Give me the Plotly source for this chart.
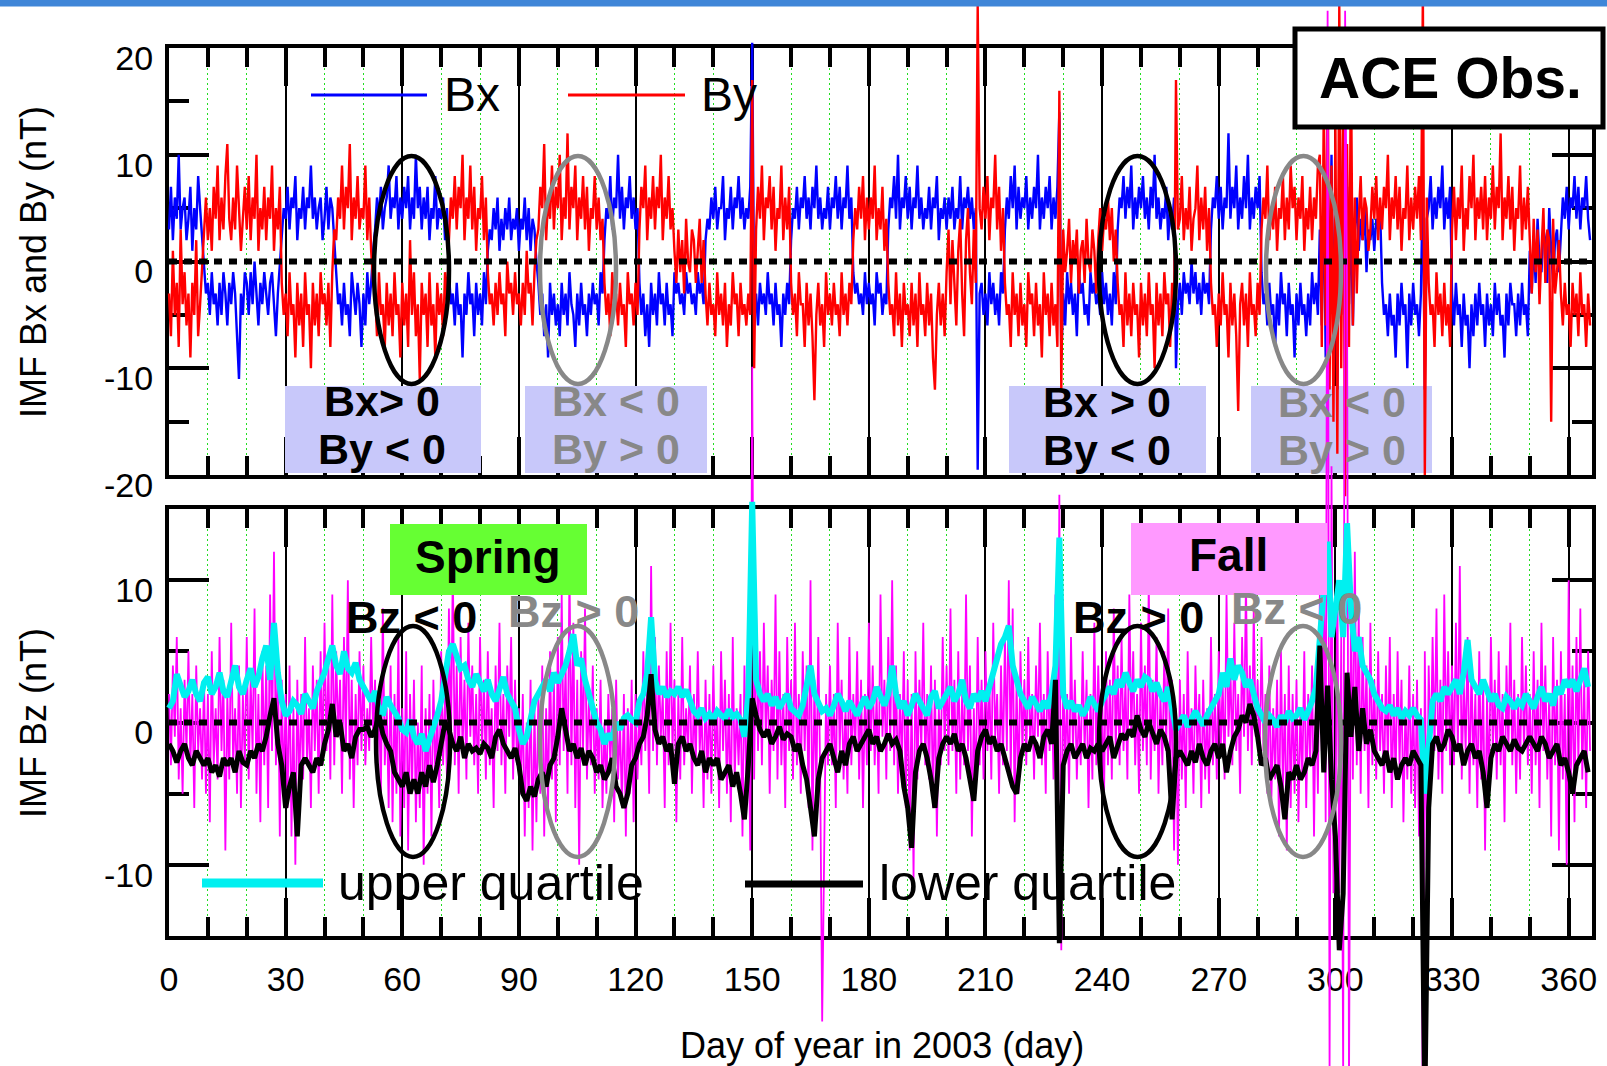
import numpy as np
import plotly.graph_objects as go

# ---------------------------------------------------------------- data
# ACE IMF 2003, sampled twice per day (day 0.0, 0.5, ... 365.5), in nT
BX = [
    3, 7, 2, 6, 4, 10, 3, 5, 6, 2, 4, 7, 1, 5, 3, 8, 5, 2, -1, -3,
    -2, -5, -1, -4, -3, -6, -2, -5, -1, -3, -6, -2, -4, -1, -3, -7, -11, -3, -5, -1,
    -2, -5, -1, -4, 0, -3, -6, -2, -4, -1, -3, -5, -2, -1, -4, -7, -3, 0, 2, 5,
    4, 7, 3, 6, 5, 8, 2, 5, 4, 7, 3, 6, 5, 9, 4, 6, 3, 5, 6, 2,
    4, 7, 3, 6, 5, 2, -1, -4, -3, -6, -2, -5, -4, -7, -1, -3, -5, -2, -4, -8,
    -3, -6, -1, -4, -2, 1, 3, 6, 4, 7, 3, 5, 6, 9, 4, 6, 5, 8, 3, 6,
    4, 7, 5, 8, 3, 6, 4, 10, 5, 7, 3, 6, 4, 7, 2, 5, 4, 8, 3, 5,
    4, 6, 2, 5, -1, -4, -3, -6, -2, -5, -4, -9, -3, -5, -1, -4, -3, -7, -2, -5,
    -3, -6, -1, -4, 1, 3, 2, 5, 3, 6, 1, 4, 2, 5, 3, 6, 2, 4, 3, 5,
    1, 4, 3, 6, 2, 5, 1, 4, 3, 0, -2, -5, -3, -7, -4, -9, -2, -5, -3, -6,
    -4, -7, -2, -5, -3, -6, -1, -4, -5, -8, -3, -6, -2, -5, -4, -7, -3, -5, -2, -4,
    -3, -6, -1, -3, 2, 5, 4, 8, 3, 6, 5, 10, 4, 7, 3, 6, 5, 8, 4, 6,
    3, 5, -2, -5, -3, -7, -4, -8, -2, -5, -3, -6, -1, -4, -3, -6, -2, -5, -4, -7,
    -1, -3, -2, -4, -3, -5, -1, -3, -2, -4, -3, -5, -1, -3, -2, -4, 2, 4, 3, 6,
    4, 7, 3, 5, 5, 8, 2, 5, 4, 7, 3, 6, 5, 8, 4, 6, 3, 5, 4, 7,
    20.5, -4, -3, -6, -2, -4, -3, -5, -1, -4, -3, -6, -2, -5, -4, -8, -3, -5, -2, -4,
    2, 5, 4, 7, 3, 6, 5, 8, 4, 6, 3, 7, 5, 9, 4, 6, 3, 5, 4, 7,
    3, 6, 5, 8, 4, 7, 3, 6, 5, 9, 4, 6, -1, -3, -2, -4, -3, -5, -1, -4,
    -2, -4, -3, -6, -1, -3, -2, -5, -3, -4, 3, 6, 5, 8, 4, 10, 3, 6, 5, 8,
    4, 7, 3, 6, 5, 9, 4, 6, 3, 5, 4, 7, 3, 6, 5, 8, 2, 5, 4, 6,
    3, 6, 4, 7, 3, 5, 4, 8, 3, 6, 5, 7, 4, 6, 3, 5, -19.5, -3, -2, -5,
    -3, -6, -1, -4, -2, -5, -3, -6, -1, -3, 3, 6, 4, 8, 5, 9, 3, 7, 4, 6,
    5, 8, 3, 6, 4, 7, 5, 10, 3, 6, 4, 7, 5, 8, 3, 6, 4, 7, 14, -9,
    -3, -6, -1, -4, -2, -5, -3, -7, -1, -3, -2, -5, -4, -6, -1, -3, -2, -4, -3, -5,
    -1, -4, -2, -5, -3, -6, -1, -4, 3, 6, 5, 8, 4, 7, 5, 9, 3, 6, 4, 7,
    5, 8, 4, 6, 3, 7, 5, 10, 4, 6, 3, 5, 4, 7, 2, 5, 3, 6, -10, -4,
    -2, -5, -1, -3, -2, -4, 0, -3, -1, -4, -2, -5, -1, -3, -2, -4, 3, 6, 5, 8,
    4, 7, 3, 6, 5, 12, 4, 7, 5, 9, 3, 6, 4, 8, 5, 10, 3, 6, 4, 7,
    5, 8, -1, -4, -3, -6, -2, -5, -4, -8, -3, -6, -1, -4, -3, -7, -2, -5, -4, -9,
    -3, -6, -2, -5, -4, -7, -3, -6, -1, -4, -2, -5, 3, -6, 8, -9, 5, -3, 10, -8,
    6, -12, 9, -5, 12, -10, 7, -4, 5, -6, 3, 6, 1, 4, 2, 5, -1, 3, 2, 4,
    1, 4, 3, 5, -2, -5, -4, -7, -3, -6, -5, -9, -3, -6, -2, -5, -4, -10, -3, -6,
    -2, -5, -4, -7, -3, 8, -12, 4, 5, 8, 3, 6, 4, 7, 5, 9, 3, 6, 4, 7,
    -3, -6, -2, -5, -4, -8, -3, -6, -5, -10, -4, -7, -3, -6, -2, -5, -4, -8, -3, -6,
    -4, -7, -2, -5, -3, -6, -5, -9, -3, -6, -2, -4, -4, -7, -3, -6, -2, -5, -4, -7,
    1, -3, 2, -2, 4, 0, -1, 3, 2, -2, 5, 1, -2, 2, 3, -1, 3, 6, 4, 7,
    3, 6, 5, 8, 4, 7, 3, 6, 5, 8, 4, 2,
]

BY = [
    -3, -7, 1, -5, -2, -8, 3, -4, -1, -6, -3, -9, -2, -5, 2, -7, -4, -1, 3, 6,
    2, 5, 1, 7, 4, 9, 2, 6, 3, 8, 11, 4, 2, 6, 3, 9, 5, 1, 4, 7,
    3, 8, 2, 6, 4, 10, 1, 5, 3, 7, 2, 6, 4, 9, 1, 5, 3, 7, -2, -5,
    -3, -7, -1, -5, -4, -9, -2, -6, -3, -8, -1, -5, -4, -10, -2, -6, -3, -7, -1, -4,
    -3, -6, -2, -8, -1, 3, 2, 6, 4, 9, 3, 7, 5, 11, 2, 6, 4, 8, 3, 5,
    4, 9, 2, 6, 1, -2, -3, -7, -1, -5, -4, -8, -2, -6, -3, -7, -1, -5, -4, -9,
    -2, -6, -3, -8, 2, -5, -1, -7, -4, -11, -2, -5, -3, -8, -1, -6, -4, -9, -2, -5,
    -3, -7, -1, -4, 2, 6, 4, 8, 3, 7, 5, 10, 2, 6, 4, 9, 3, 7, 1, 5,
    4, 8, 2, 6, -1, -4, -3, -6, -2, -5, -1, -4, -3, -7, 0, -3, -2, -5, -1, -4,
    -3, -6, -2, -5, 1, -3, -2, -6, -1, 2, 3, 7, 5, 11, 2, 6, 4, 9, 3, 7,
    5, 10, 2, 6, 4, 12, 3, 7, 5, 9, 2, 6, 4, 8, 3, 7, 1, 5, 4, 8,
    3, 6, 2, 4, -2, -5, -3, -7, -1, -4, -3, -6, -2, -5, -4, -8, -1, -4, -3, -6,
    -2, -5, 3, 7, 5, 9, 2, 6, 4, 8, 3, 7, 5, 10, 2, 6, 4, 8, 3, 5,
    1, -2, 3, -1, 2, -3, 4, 0, -1, 3, 2, -2, 1, 4, -2, 2, -3, -6, -2, -5,
    -4, -7, -1, -5, -3, -6, -2, -8, -4, -6, -1, -4, -3, -7, -2, -5, -4, -6, -3, -5,
    17, -10, 3, 7, 4, 9, 2, 6, 5, 8, 3, 7, 1, 5, 4, 9, 2, 6, 3, 7,
    -2, -5, -3, -7, -1, -4, -4, -8, -2, -6, -3, -7, -13, -5, -2, -6, -4, -8, -1, -5,
    -3, -6, -2, -5, -4, -7, -1, -5, -3, -6, -2, -4, 2, 5, 3, 7, 4, 8, 2, 6,
    3, 6, 4, 9, 2, 5, 3, 7, 1, 4, -2, -5, -4, -7, -1, -6, -3, -8, -2, -5,
    -4, -7, -2, -6, -3, -8, -1, -5, -4, -7, -2, -6, -3, -9, -12, -5, -2, -6, -3, -7,
    -1, 3, -4, 2, -2, -6, 1, 4, -3, -7, 2, 5, -1, -4, 3, -2, 24, 5, 3, 7,
    4, 8, 2, 6, 5, 10, 3, 7, 1, 5, -2, -5, -4, -8, -1, -5, -3, -7, -2, -6,
    -4, -8, -1, -4, -3, -7, -2, -6, -4, -9, -1, -5, -3, -7, -2, -6, -4, -8, 16, -12,
    3, -1, 1, 4, -2, 2, 0, 3, -3, 1, 2, -2, 4, 0, -1, 3, 1, -3, 2, 5,
    1, 4, 3, 6, 2, 5, 0, 3, -2, -5, -4, -8, -1, -6, -3, -7, -2, -5, -4, -9,
    -2, -6, -3, -7, -1, -5, -4, -10, -2, -6, -3, -7, -1, -4, -3, -8, -2, -5, 17, 3,
    4, 8, 2, 5, 3, 7, 1, 4, 5, 9, 2, 6, 3, 7, 1, 5, -2, -5, -4, -8,
    -3, -6, -1, -5, -4, -9, -2, -6, -3, -7, -14, -4, -2, -6, -3, -8, -1, -5, -4, -7,
    -2, -5, 3, 6, 4, 9, 2, 5, 3, 7, 1, 5, 4, 8, 2, 6, 3, 9, 5, 7,
    2, 6, 4, 8, 1, 5, 3, 7, 2, 6, 4, 9, 10, -8, 14, -6, 20, -12, 9, -15,
    13, -18, 24, -10, 16, -22, 11, -8, 19, -6, 6, -3, 4, 8, 2, 6, 5, 1, 3, 7,
    4, 8, 2, 6, 3, 7, 5, 10, 2, 6, 4, 8, 3, 7, 1, 5, 4, 9, 2, 6,
    3, 7, 4, 8, 2, 25, -20, 6, -2, -5, -4, -8, -1, -5, -3, -7, -2, -6, -4, -8,
    3, 7, 2, 6, 4, 9, 1, 5, 3, 8, 5, 10, 2, 6, 4, 7, 3, 8, 2, 6,
    4, 9, 3, 7, 5, 12, 2, 6, 4, 8, 3, 7, 1, 5, 4, 9, 2, 6, 3, 7,
    2, -3, 4, -1, 3, -4, 1, 5, -2, 3, 2, -15, 4, -3, -1, 2, -3, -6, -2, -5,
    -4, -8, -2, -5, -3, -7, -1, -5, -4, -8, -3, -6,
]

BZ = [
    2, -3, 4, -1, 6, -4, 1, -5, 3, -2, 5, -3, 2, -6, 4, -2, 1, -4, 3, -5,
    2, -7, 5, -3, 1, -4, 6, -2, 3, -9, 2, -4, 7, -3, 1, -5, 4, -6, 2, -3,
    6, -4, 3, -2, 8, -5, 2, -7, 5, -3, 4, -6, 9, -2, 12, -3, 5, -8, 3, -5,
    2, -6, 4, -8, 1, -10, 3, -5, 2, -4, 6, -3, 1, -6, 4, -2, 3, -5, 5, -3,
    7, -2, 4, -4, 9, -3, 5, -1, 3, -5, 6, -2, 10, -4, 3, -6, 2, -3, 5, -2,
    4, -3, 1, -2, 6, -1, 3, -4, 2, -5, 8, -3, 1, -6, 4, -7, 2, -5, 6, -8,
    1, -6, 5, -9, 2, -5, 3, -7, 0, -6, 4, -10, 1, -5, 2, -8, 3, -4, 1, -6,
    5, -3, 2, -4, 8, -2, 11, -3, 4, -5, 6, -2, 3, -4, 7, -1, 4, -3, 2, -5,
    6, -2, 3, -4, 5, -3, 1, -6, 4, -2, 7, -3, 2, -5, 4, -1, 6, -4, 3, -3,
    1, -5, 2, -8, 0, -6, 3, -9, 1, -7, 2, -5, 4, -8, 1, -6, 5, -4, 3, -7,
    6, -3, 9, -2, 4, -5, 11, -3, 7, -6, 3, -10, 5, -2, 8, -4, 2, -3, 4, -5,
    1, -4, 3, -6, 0, -5, 2, -3, 1, -7, 3, -4, 0, -6, 2, -8, 1, -5, 3, -7,
    2, -4, 1, -3, 5, -2, 3, -5, 11, -2, 6, -3, 4, -1, 2, -6, 5, -3, 7, -2,
    3, -7, 2, -4, 6, -3, 1, -2, 4, -5, 2, -3, 5, -2, 1, -6, 3, -4, 2, -5,
    4, -3, 1, -6, 5, -2, 3, -5, 2, -7, 6, -4, 1, -3, 2, -8, 4, -5, 1, -9,
    25, -4, 8, -2, 5, -3, 7, -1, 4, -5, 3, -2, 9, -4, 5, -3, 2, -6, 6, -2,
    3, -4, 7, -3, 2, -5, 5, -2, 4, -6, 10, -9, 3, -5, 6, -4, -21, -8, 2, -3,
    4, -3, 2, -6, 7, -2, 3, -4, 1, -5, 6, -3, 2, -2, 5, -4, 3, -6, 2, -3,
    7, -2, 4, -3, 2, -5, 9, -1, 3, -4, 6, -2, 10, -3, 4, -5, 2, -3, 5, -6,
    3, -9, 2, -11, 5, -4, 3, -2, 7, -3, 2, -4, 4, -6, 3, -8, 1, -3, 6, -2,
    4, -3, 8, -2, 3, -5, 5, -4, 2, -3, 9, -2, 4, -8, 1, -5, 6, -3, 3, -4,
    5, -2, 3, -4, 7, -1, 2, -5, 4, -3, 6, -2, 10, -4, 8, -7, 3, -5, 5, -2,
    3, -3, 6, -2, 2, -4, 4, -1, 7, -3, 2, -5, 5, -2, 3, -4, 9, -6, 16, -16,
    4, -3, 2, -5, 6, -2, 3, -4, 1, -3, 5, -2, 3, -6, 2, -4, 7, -3, 4, -2,
    2, -5, 5, -3, 3, -4, 8, -2, 4, -3, 6, -2, 3, -4, 9, -1, 5, -3, 2, -5,
    7, -2, 4, -3, 10, -4, 3, -2, 6, -5, 2, -3, 5, -2, 8, -4, 3, -9, 1, -10,
    3, -4, 2, -6, 5, -3, 1, -5, 4, -2, 2, -6, 3, -4, 1, -5, 6, -3, 2, -4,
    5, -2, 3, -4, 9, -1, 4, -3, 7, -2, 2, -5, 6, -1, 10, -2, 4, -3, 8, -1,
    3, -3, 6, -2, 2, -5, 4, -6, 1, -4, 3, -8, 5, -5, 2, -9, 4, -6, 2, -5,
    3, -7, 1, -4, 5, -6, 2, -3, 4, -8, 3, -5, 9, -2, 12, -7, 50, -25, 18, -12,
    -8, 10, -12, 6, -25, 50, 30, -26, 9, -4, 12, -3, 8, -5, 6, -2, 4, -6, 7, -3,
    3, -4, 5, -2, 2, -5, 4, -3, 6, -6, 2, -4, 5, -3, 3, -7, 1, -4, 4, -5,
    2, -6, 3, -8, 1, -30, 5, -10, 4, -3, 6, -2, 8, -4, 3, -5, 9, -2, 5, -3,
    4, -3, 7, -2, 11, -4, 3, -2, 6, -5, 4, -3, 2, -6, 5, -4, 3, -9, 2, -5,
    6, -2, 3, -4, 5, -3, 2, -7, 4, -2, 7, -3, 3, -5, 2, -4, 6, -2, 4, -3,
    2, -5, 5, -3, 3, -6, 7, -2, 4, -4, 2, -8, 6, -3, 3, -9, 5, -4, 2, -10,
    10, -5, 4, -7, 6, -3, 8, -4, 3, -6, 5, -2,
]

# daily quartiles of Bz (day 0 ... 365), in nT
BZ_UPPER = [
    1.0, 1.5, 3.4, 2.5, 1.8, 2.2, 3.0, 2.0, 1.5, 2.8,
    3.2, 2.0, 2.5, 3.5, 2.2, 1.8, 3.0, 4.0, 2.5, 2.0,
    3.0, 3.8, 2.5, 3.2, 4.5, 5.4, 3.0, 7.0, 3.5, 1.5,
    0.5, 0.8, 1.5, 1.2, 0.6, 2.0, 1.5, 1.0, 2.2, 2.8,
    3.5, 4.5, 5.4, 4.0, 3.4, 5.0, 3.8, 3.5, 4.2, 3.0,
    2.5, 2.0, 1.5, 2.2, 1.0, 0.5, 1.8, 1.2, 0.8, 0.3,
    -0.5, -0.7, 0.2, -1.0, -1.5, -0.8, -2.0, -1.2, -0.5, 0.5,
    1.5, 3.0, 5.0, 5.5, 4.5, 3.8, 4.0, 3.0, 2.5, 3.4,
    2.8, 2.2, 3.0, 2.0, 1.5, 2.5, 3.2, 2.0, 1.5, 1.0,
    -0.5, -1.5, -1.0, 0.5, 1.5, 2.0, 2.5, 3.0, 2.2, 3.5,
    2.8, 3.5, 4.0, 5.0, 6.2, 4.0, 4.5, 3.0, 2.0, 1.0,
    0.0, -0.5, -1.5, -0.8, -1.2, 0.0, -0.5, 0.3, 0.5, 0.2,
    0.0, 1.5, 2.0, 3.5, 7.4, 3.0, 2.0, 2.5, 1.8, 2.2,
    2.0, 2.5, 1.8, 2.3, 1.5, 0.8, 0.5, 1.0, 0.3, 0.6,
    0.2, 0.8, 0.5, 0.3, 0.9, 0.4, 0.6, 0.2, -1.0, 2.0,
    15.5, 3.0, 2.0, 1.5, 2.0, 1.2, 1.8, 1.0, 1.5, 2.0,
    1.0, 0.8, 0.5, 1.2, 2.5, 4.0, 2.0, 1.5, 0.8, 1.0,
    0.5, 1.2, 2.0, 1.5, 0.8, 1.5, 1.0, 0.5, 1.2, 1.8,
    1.0, 1.5, 2.5, 1.8, 1.2, 2.0, 4.0, 2.0, 1.0, 1.5,
    0.5, 1.2, 2.0, 1.5, 1.0, 0.5, 1.8, 2.2, 1.0, 1.5,
    1.8, 2.5, 1.5, 2.0, 3.0, 1.5, 1.0, 2.0, 1.5, 2.2,
    1.5, 2.5, 3.5, 4.5, 5.5, 6.0, 6.8, 4.0, 3.0, 2.0,
    1.5, 1.0, 1.8, 1.2, 0.8, 1.5, 1.0, 2.0, 4.0, 13.0,
    2.0, 1.0, 1.5, 0.8, 1.2, 0.5, 1.0, 1.8, 1.2, 0.8,
    1.5, 2.0, 2.5, 2.0, 3.0, 2.5, 3.5, 2.8, 2.2, 3.0,
    2.5, 3.2, 3.0, 2.2, 2.8, 2.0, 1.5, 2.5, 1.0, -0.5,
    0.0, 0.5, -0.3, 0.2, 0.8, 0.3, -0.2, 0.5, 1.0, 1.5,
    2.0, 3.5, 2.5, 4.5, 3.0, 4.0, 3.5, 2.5, 3.0, 2.0,
    1.0, 0.5, 0.0, 0.5, 0.2, -0.3, 0.5, 0.0, 0.8, 0.3,
    0.5, 1.0, 0.2, 0.8, 1.5, 2.5, 6.0, 9.0, 12.7, 6.0,
    8.0, 10.0, 6.0, 14.0, 8.0, 5.0, 6.0, 4.0, 3.5, 3.0,
    2.0, 1.5, 1.0, 0.8, 1.2, 0.5, 1.0, 0.3, 0.8, 0.5,
    1.0, 0.5, 0.2, -5.0, -1.0, 1.5, 2.0, 1.5, 2.5, 2.0,
    2.5, 3.0, 2.0, 3.5, 5.8, 3.0, 2.5, 2.0, 3.0, 2.2,
    1.5, 2.0, 1.2, 1.0, 1.8, 1.5, 1.0, 1.5, 1.2, 2.0,
    1.5, 1.0, 1.8, 2.5, 1.5, 2.0, 1.2, 2.5, 2.0, 3.0,
    2.5, 3.0, 2.2, 3.0, 3.8, 2.5,
]

BZ_LOWER = [
    -1.5, -2.0, -2.8, -2.0, -1.5, -2.5, -3.0, -2.0, -2.5, -3.0,
    -2.5, -3.5, -3.0, -3.8, -2.5, -3.0, -2.5, -3.5, -2.0, -2.8,
    -3.0, -2.0, -2.5, -1.5, -2.0, -1.0, 0.5, 1.7, -1.5, -3.0,
    -6.0, -4.5, -3.5, -8.0, -3.0, -2.5, -3.0, -3.5, -2.5, -3.0,
    -1.5, -0.5, 1.3, -1.0, 0.0, -2.0, -1.5, -2.5, -1.0, -0.5,
    -0.5, -0.3, -1.0, -0.5, 0.5, -0.8, -1.5, -2.0, -3.5, -4.0,
    -4.5, -3.5, -5.0, -4.0, -5.0, -3.5, -4.5, -3.0, -4.2, -3.0,
    -1.5, 0.0, -0.5, -1.5, -2.0, -1.0, -2.5, -1.5, -2.0, -1.8,
    -2.2, -1.5, -1.8, -2.5, -1.0, -0.5, -1.5, -2.0, -2.5, -1.8,
    -3.0, -5.0, -5.5, -4.5, -5.2, -4.0, -3.5, -4.5, -3.0, -2.5,
    -1.0, 1.0, -0.5, -2.0, -1.5, -2.5, -1.8, -3.0, -2.0, -2.5,
    -3.5, -3.0, -4.0, -3.5, -2.5, -4.5, -5.0, -6.0, -5.0, -3.0,
    -2.5, -1.5, -1.0, 0.5, 3.4, -0.5, -1.5, -1.0, -2.0, -1.5,
    -4.3, -1.5, -1.0, -2.0, -1.5, -2.5, -3.0, -2.0, -3.5, -2.5,
    -3.0, -2.5, -4.0, -3.5, -3.0, -4.5, -3.5, -5.0, -6.8, -3.0,
    1.7, 0.5, -0.5, -1.0, -0.5, -1.5, -1.0, -0.3, -1.2, -0.8,
    -1.0, -2.0, -1.5, -3.0, -4.0, -6.0, -8.0, -4.0, -2.5, -2.0,
    -1.5, -2.5, -3.5, -2.0, -3.0, -1.5, -1.0, -2.0, -1.5, -1.0,
    -0.5, -1.5, -1.0, -2.0, -1.5, -0.8, -1.5, -1.2, -2.0, -4.5,
    -6.0, -8.8, -3.5, -2.0, -1.5, -2.5, -4.0, -6.0, -2.5, -1.5,
    -1.0, -1.5, -0.8, -2.0, -1.5, -2.5, -4.0, -5.5, -2.0, -1.0,
    -0.5, -1.5, -1.0, -2.0, -1.5, -2.5, -3.5, -4.5, -5.0, -2.5,
    -1.5, -2.0, -1.0, -1.5, -2.5, -1.0, -0.5, -1.5, 3.0, -15.5,
    -3.0, -2.0, -1.5, -2.5, -2.0, -1.5, -2.5, -1.8, -2.0, -1.5,
    -2.0, -1.5, -1.0, -2.5, -1.5, -0.8, -1.2, -0.5, -1.0, 0.5,
    -0.5, -1.0, 0.0, -0.8, -1.5, -0.5, -1.0, -2.0, -6.8, -2.5,
    -2.0, -2.5, -3.0, -2.0, -2.8, -1.5, -2.5, -3.0, -2.0, -1.5,
    -2.5, -1.5, -3.5, -2.0, -1.0, -0.5, 0.5, 0.0, 1.3, 0.5,
    -1.0, -3.0, -2.5, -4.0, -3.5, -3.0, -4.5, -6.8, -3.5, -4.0,
    -3.0, -4.0, -3.5, -2.5, -3.0, -2.0, 5.4, -3.5, 2.6, -4.0,
    -8.0, -16.0, -12.0, 3.5, -1.0, 2.5, -2.0, 1.0, -1.5, -0.5,
    -2.0, -2.5, -3.0, -2.0, -3.5, -2.5, -4.0, -3.0, -2.5, -3.0,
    -2.0, -2.5, -3.0, -27.0, -6.0, -1.5, -1.0, -2.0, -1.5, -0.5,
    -1.0, -2.0, -1.5, -3.0, -2.0, -1.5, -2.5, -2.0, -3.5, -6.0,
    -2.5, -1.5, -2.0, -1.0, -1.5, -2.0, -1.2, -1.8, -2.0, -1.5,
    -1.0, -1.5, -2.0, -1.0, -1.5, -2.5, -2.0, -1.5, -3.0, -2.5,
    -3.5, -5.0, -3.0, -2.5, -2.0, -3.5,
]

DAY_HALF = np.arange(len(BX)) * 0.5          # half-day sample times
DAY = np.arange(len(BZ_UPPER))               # daily sample times

X_TICKS = list(range(0, 361, 30))
Y1_TICKS = [-20, -10, 0, 10, 20]
Y2_TICKS = [-10, 0, 10]

# ---------------------------------------------------------------- geometry (px)
W, H = 1607, 1066
L, R = 169, 1592            # panel left / right
T1, B1 = 48, 475            # top panel
T2, B2 = 509, 936           # bottom panel
XR = [0, 366]
Y1R = [-20, 20]
Y2R = [-15, 15]

FONT = "Liberation Sans, Arial, sans-serif"


def fx(px):
    return px / W


def fy(py):
    return 1 - py / H


def full_x_range():
    k = (XR[1] - XR[0]) / (R - L)
    return [XR[0] - L * k, XR[0] + (W - L) * k]


def full_y_range(top, bot, rng):
    k = (rng[1] - rng[0]) / (bot - top)
    return [rng[1] - (H - top) * k, rng[1] + top * k]


def day_at(px):
    return XR[0] + (px - L) * (XR[1] - XR[0]) / (R - L)


def val_top(py):
    return Y1R[1] - (py - T1) * (Y1R[1] - Y1R[0]) / (B1 - T1)


fig = go.Figure()

# all series are drawn on full-figure overlay axes whose scale matches the
# panels exactly, so large spikes may run past the panel frames as in print
fig.add_trace(go.Scatter(x=DAY_HALF, y=BX, xaxis="x3", yaxis="y3", mode="lines",
                         line=dict(color="#0000ff", width=2.4), name="Bx"))
fig.add_trace(go.Scatter(x=DAY_HALF, y=BY, xaxis="x3", yaxis="y3", mode="lines",
                         line=dict(color="#ff0000", width=2.4), name="By"))
fig.add_trace(go.Scatter(x=DAY_HALF, y=BZ, xaxis="x3", yaxis="y4", mode="lines",
                         line=dict(color="#ff00ff", width=1.8), name="Bz"))
fig.add_trace(go.Scatter(x=DAY, y=BZ_UPPER, xaxis="x3", yaxis="y4", mode="lines",
                         line=dict(color="#00f0f0", width=6), name="upper quartile"))
fig.add_trace(go.Scatter(x=DAY, y=BZ_LOWER, xaxis="x3", yaxis="y4", mode="lines",
                         line=dict(color="#000000", width=5), name="lower quartile"))

xcommon = dict(
    range=XR, tickvals=X_TICKS, ticks="inside", ticklen=38, tickwidth=3.5,
    tickcolor="black", showline=True, linewidth=4, linecolor="black",
    mirror="ticks", showgrid=True, gridcolor="black", gridwidth=1.5,
    zeroline=False, fixedrange=True, automargin=False,
    minor=dict(dtick=10, tick0=0, ticks="inside", ticklen=19, tickwidth=3.5,
               tickcolor="black", showgrid=True, gridcolor="#22dd22",
               gridwidth=1, griddash="2px,3px"),
    tickfont=dict(family=FONT, size=34, color="black"),
)
ycommon = dict(
    ticks="inside", ticklen=40, tickwidth=3.5, tickcolor="black",
    showline=True, linewidth=4, linecolor="black", mirror="ticks",
    showgrid=False, zeroline=False, fixedrange=True, automargin=False,
    minor=dict(dtick=5, tick0=0, ticks="inside", ticklen=20, tickwidth=3.5,
               tickcolor="black", showgrid=False),
    tickfont=dict(family=FONT, size=34, color="black"),
    ticklabelshift=10, ticklabelstandoff=5,
)

fig.update_layout(
    width=W, height=H,
    margin=dict(l=0, r=0, t=0, b=0, pad=0, autoexpand=False),
    paper_bgcolor="white", plot_bgcolor="rgba(0,0,0,0)", showlegend=False,
    xaxis=dict(domain=[fx(L), fx(R)], anchor="y", showticklabels=False, **xcommon),
    yaxis=dict(domain=[fy(B1), fy(T1)], anchor="x", range=Y1R, tickvals=Y1_TICKS,
               ticktext=[str(v) for v in Y1_TICKS], **ycommon),
    xaxis2=dict(domain=[fx(L), fx(R)], anchor="y2", showticklabels=True,
                ticklabelstandoff=10, **xcommon),
    yaxis2=dict(domain=[fy(B2), fy(T2)], anchor="x2", range=Y2R, tickvals=Y2_TICKS,
                ticktext=[str(v) for v in Y2_TICKS], **ycommon),
    xaxis3=dict(domain=[0, 1], anchor="y3", range=full_x_range(), visible=False,
                fixedrange=True, automargin=False),
    yaxis3=dict(domain=[0, 1], anchor="x3", range=full_y_range(T1, B1, Y1R),
                visible=False, fixedrange=True, automargin=False),
    yaxis4=dict(domain=[0, 1], anchor="x3", overlaying="y3",
                range=full_y_range(T2, B2, Y2R), visible=False, fixedrange=True,
                automargin=False),
)

shapes = []
# blue strip along the top edge
shapes.append(dict(type="rect", xref="paper", yref="paper", x0=0, x1=1,
                   y0=fy(6.5), y1=1, fillcolor="#3f86d8", line=dict(width=0),
                   layer="above"))

# lavender boxes: on the overlay axes, so they hide the panel grid and ticks
# but stay beneath the data curves
for x0, x1 in [(285, 481), (525, 707), (1009, 1206), (1251, 1432)]:
    shapes.append(dict(type="rect", xref="x3", yref="y3", x0=day_at(x0), x1=day_at(x1),
                       y0=val_top(386), y1=val_top(473), fillcolor="#c8c8fa",
                       line=dict(width=0), layer="below"))

# zero lines
for xr, yr in [("x", "y"), ("x2", "y2")]:
    shapes.append(dict(type="line", xref=xr, yref=yr, x0=XR[0], x1=XR[1], y0=0, y1=0,
                       line=dict(color="black", width=6, dash="8px,7px"),
                       layer="above"))

# season boxes
shapes.append(dict(type="rect", xref="paper", yref="paper", x0=fx(390), x1=fx(587),
                   y0=fy(595), y1=fy(524), fillcolor="#66ff33", line=dict(width=0),
                   layer="above"))
shapes.append(dict(type="rect", xref="paper", yref="paper", x0=fx(1131), x1=fx(1327),
                   y0=fy(595), y1=fy(523), fillcolor="#ff99ff", line=dict(width=0),
                   layer="above"))

# ellipses
GREY = "#888888"
ell = [
    (374, 449, 156, 384, "black"), (540, 616, 156, 384, GREY),
    (1099, 1176, 156, 384, "black"), (1266, 1341, 156, 384, GREY),
    (376, 450, 626, 857, "black"), (540, 615, 626, 857, GREY),
    (1099, 1176, 626, 857, "black"), (1265, 1341, 626, 857, GREY),
]
for x0, x1, y0, y1, c in ell:
    shapes.append(dict(type="circle", xref="paper", yref="paper", x0=fx(x0), x1=fx(x1),
                       y0=fy(y1), y1=fy(y0), line=dict(color=c, width=4.5),
                       layer="above"))

# ACE Obs. box
shapes.append(dict(type="rect", xref="paper", yref="paper", x0=fx(1295), x1=fx(1603),
                   y0=fy(127), y1=fy(29), fillcolor="white",
                   line=dict(color="black", width=5), layer="above"))

# legend samples
for x0, x1, y, c, w in [(311, 427, 95, "#0000ff", 3), (568, 685, 95, "#ff0000", 3),
                        (202, 323, 883, "#00f0f0", 9), (745, 863, 884, "black", 7)]:
    shapes.append(dict(type="line", xref="paper", yref="paper", x0=fx(x0), x1=fx(x1),
                       y0=fy(y), y1=fy(y), line=dict(color=c, width=w), layer="above"))

fig.update_layout(shapes=shapes)


def ann(text, px, py, size, color="black", xanchor="center", angle=0):
    return dict(text=text, x=fx(px), y=fy(py), xref="paper", yref="paper",
                xanchor=xanchor, yanchor="middle", showarrow=False, textangle=angle,
                font=dict(family=FONT, size=size, color=color))


BOX_FS = 43
anns = [
    ann("IMF Bx and By (nT)", 33, 262, 36, angle=-90),
    ann("IMF Bz (nT)", 33, 723, 36, angle=-90),
    ann("Day of year in 2003 (day)", 882, 1045, 36),
    ann("Bx", 442, 95, 48, xanchor="left"),
    ann("By", 699, 95, 48, xanchor="left"),
    ann("upper quartile", 336, 883, 50, xanchor="left"),
    ann("lower quartile", 877, 883, 50, xanchor="left"),
    ann("<b>ACE Obs.</b>", 1450, 78, 57),
    ann("<b>Bx&gt; 0</b>", 382, 401, BOX_FS),
    ann("<b>By &lt; 0</b>", 382, 449, BOX_FS),
    ann("<b>Bx &lt; 0</b>", 616, 401, BOX_FS, color=GREY),
    ann("<b>By &gt; 0</b>", 616, 449, BOX_FS, color=GREY),
    ann("<b>Bx &gt; 0</b>", 1107, 402, BOX_FS),
    ann("<b>By &lt; 0</b>", 1107, 450, BOX_FS),
    ann("<b>Bx &lt; 0</b>", 1342, 402, BOX_FS, color=GREY),
    ann("<b>By &gt; 0</b>", 1342, 450, BOX_FS, color=GREY),
    ann("<b>Spring</b>", 488, 557, 46),
    ann("<b>Fall</b>", 1228, 555, 46),
    ann("<b>Bz &lt; 0</b>", 412, 617, 45),
    ann("<b>Bz &gt; 0</b>", 573, 611, 45, color=GREY),
    ann("<b>Bz &gt; 0</b>", 1138, 617, 45),
    ann("<b>Bz &lt; 0</b>", 1296, 608, 45, color=GREY),
]
fig.update_layout(annotations=anns)

fig.write_html("out.html")
